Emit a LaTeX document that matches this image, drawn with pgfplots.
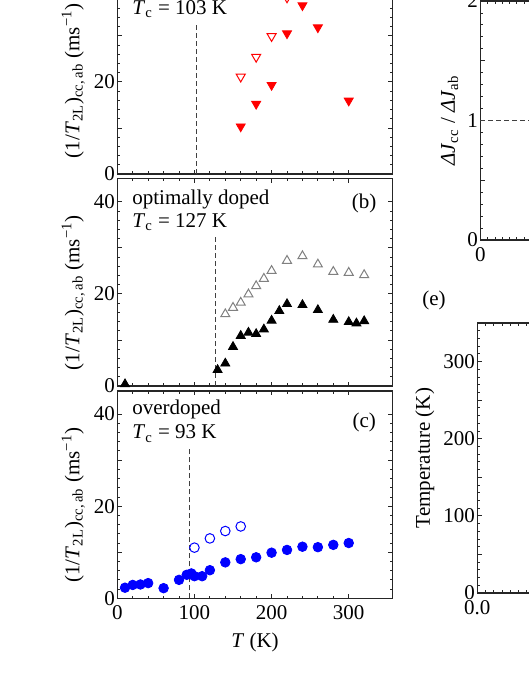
\documentclass[border=0pt]{standalone}
\usepackage{fontspec}
\setmainfont{Liberation Serif}
\usepackage{pgfplots}
\pgfplotsset{compat=1.18}

\pgfplotsset{
  frame/.style={
    scale only axis,
    tick align=inside,
    major tick length=2.2pt,
    minor tick length=1.3pt,
    every tick/.style={black!85, line width=0.4pt},
    axis line style={black!85, line width=0.6pt},
    /pgf/number format/assume math mode=true,
    yticklabel style={inner xsep=1pt},
    tick label style={font=\fontsize{10.5}{12}\selectfont},
    label style={font=\fontsize{10.5}{12}\selectfont},
    clip=false,
  },
  panel/.style={
    frame,
    width=137.7pt, height=103.65pt,
    xmin=0, xmax=357, ymin=0, ymax=45,
    xtick={0,100,200,300}, minor x tick num=4,
    ytick={0,10,20,30,40}, yticklabels={0,,20,,40}, minor y tick num=4,
    ylabel={(1/\textit{T}\textsubscript{2L})\textsubscript{cc,\,ab} (ms\textsuperscript{−1})},
    ylabel style={at={(ticklabel cs:0.45)}},
  },
}
\tikzset{
  tcline/.style={black!75, line width=0.45pt, dash pattern=on 2.5pt off 1.5pt},
  txt/.style={anchor=base west, inner sep=0pt, font=\fontsize{10.5}{12}\selectfont},
  tag/.style={font=\fontsize{10.5}{12}\selectfont},
}

\begin{document}
\begin{tikzpicture}
\useasboundingbox (0pt,0pt) rectangle (264.5pt,342pt);

% (a) underdoped
\begin{axis}[panel, at={(58.65pt,255pt)}, anchor=south west, xticklabels={}]
  \addplot[tcline] coordinates {(103,0) (103,32.5)};
  \addplot[only marks, mark=triangle, mark size=2.6pt, red, mark options={rotate=180, line width=0.5pt}]
    coordinates {(160,21.1) (180,25.4) (200,29.9) (220,38.3)};
  \addplot[only marks, mark=triangle*, mark size=2.6pt, red, mark options={rotate=180}]
    coordinates {(160,10.3) (180,15.2) (200,19.3) (220,30.5) (240,36.6) (260,31.8) (300,15.9)};
  \node[txt] at (axis cs:19,40.8) {underdoped};
  \node[txt] at (axis cs:19,34.6) {\textit{T}\textsubscript{c} = 103 K};
  \node[tag] at (axis cs:320,42) {(a)};
\end{axis}

% (b) optimally doped
\begin{axis}[panel, at={(58.65pt,149pt)}, anchor=south west, xticklabels={}]
  \addplot[tcline] coordinates {(127,0) (127,32.5)};
  \addplot[only marks, mark=triangle, mark size=2.6pt, gray, mark options={line width=0.5pt}]
    coordinates {(140,15.6) (150,17.0) (160,18.1) (170,19.9) (180,21.7) (190,23.3) (200,25.0)
                 (220,27.2) (240,28.2) (260,26.4) (280,24.8) (300,24.6) (320,24.1)};
  \addplot[only marks, mark=triangle*, mark size=2.6pt, black]
    coordinates {(10,0.4) (130,3.5) (140,4.9) (150,8.5) (160,10.9) (170,11.6) (180,11.3)
                 (190,12.3) (200,14.2) (210,16.3) (220,17.8) (240,17.6) (260,16.5)
                 (280,14.4) (300,13.9) (310,13.6) (320,14.1)};
  \node[txt] at (axis cs:19,39.5) {optimally doped};
  \node[txt] at (axis cs:19,34.5) {\textit{T}\textsubscript{c} = 127 K};
  \node[tag] at (axis cs:320,39.7) {(b)};
\end{axis}

% (c) overdoped
\begin{axis}[panel, at={(58.65pt,42.85pt)}, anchor=south west, xlabel={\textit{T} (K)}]
  \addplot[tcline] coordinates {(93,0) (93,32.7)};
  \addplot[only marks, mark=o, mark size=2.4pt, blue, mark options={line width=0.5pt}]
    coordinates {(100,11.0) (120,13.0) (140,14.6) (160,15.6)};
  \addplot[only marks, mark=*, mark size=2.4pt, blue]
    coordinates {(10,2.3) (20,2.9) (30,3.0) (40,3.3) (60,2.2) (80,4.0) (90,5.1) (96,5.4)
                 (100,4.8) (110,4.8) (120,6.1) (140,7.8) (160,8.5) (180,8.9) (200,9.9)
                 (220,10.5) (240,11.2) (260,11.1) (280,11.6) (300,12.0)};
  \node[txt] at (axis cs:19,39.8) {overdoped};
  \node[txt] at (axis cs:19,34.6) {\textit{T}\textsubscript{c} = 93 K};
  \node[tag] at (axis cs:320,38.2) {(c)};
\end{axis}

% (d) exchange anisotropy
\begin{axis}[frame, at={(240.15pt,222pt)}, anchor=south west,
  width=109.5pt, height=119.5pt,
  xmin=0, xmax=0.3, xtick={0,0.1,0.2,0.3}, minor x tick num=9,
  ymin=0, ymax=2, ytick={0,0.5,1,1.5,2}, yticklabels={0,,1,,2}, minor y tick num=4,
  ylabel={\textit{ΔJ}\textsubscript{cc} / \textit{ΔJ}\textsubscript{ab}}]
  \addplot[tcline] coordinates {(0,1) (0.3,1)};
\end{axis}

% (e) phase diagram
\begin{axis}[frame, at={(238.65pt,45.5pt)}, anchor=south west,
  width=123pt, height=135pt,
  xmin=0, xmax=0.3, xtick={0,0.1,0.2,0.3}, minor x tick num=9,
  xticklabel style={/pgf/number format/.cd, fixed, fixed zerofill, precision=1},
  ymin=0, ymax=350, ytick={0,50,...,350}, yticklabels={0,,100,,200,,300,}, minor y tick num=4,
  ylabel={Temperature (K)}]
\end{axis}
\node[tag] at (217pt,192pt) {(e)};
\end{tikzpicture}
\end{document}
